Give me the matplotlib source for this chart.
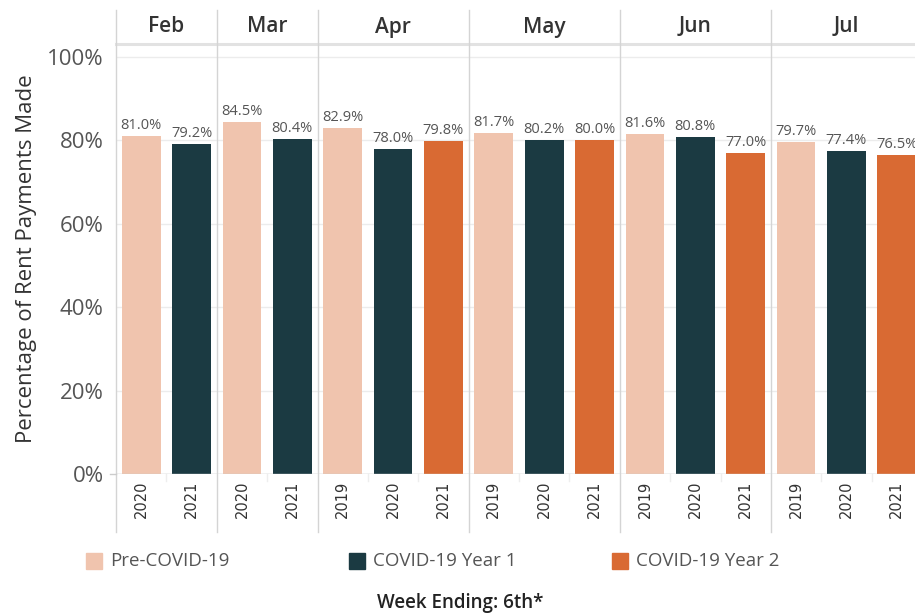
import matplotlib
matplotlib.use("Agg")
import matplotlib.pyplot as plt
import matplotlib.transforms as mtransforms
from matplotlib.patches import Rectangle

plt.rcParams['font.family'] = ['Open Sans', 'DejaVu Sans']

# ---- data ----
months = ['Feb', 'Mar', 'Apr', 'May', 'Jun', 'Jul']
month_years = [
    ['2020', '2021'],
    ['2020', '2021'],
    ['2019', '2020', '2021'],
    ['2019', '2020', '2021'],
    ['2019', '2020', '2021'],
    ['2019', '2020', '2021'],
]
month_values = [
    [81.0, 79.2],
    [84.5, 80.4],
    [82.9, 78.0, 79.8],
    [81.7, 80.2, 80.0],
    [81.6, 80.8, 77.0],
    [79.7, 77.4, 76.5],
]
month_groups = [
    ['Pre-COVID-19', 'COVID-19 Year 1'],
    ['Pre-COVID-19', 'COVID-19 Year 1'],
    ['Pre-COVID-19', 'COVID-19 Year 1', 'COVID-19 Year 2'],
    ['Pre-COVID-19', 'COVID-19 Year 1', 'COVID-19 Year 2'],
    ['Pre-COVID-19', 'COVID-19 Year 1', 'COVID-19 Year 2'],
    ['Pre-COVID-19', 'COVID-19 Year 1', 'COVID-19 Year 2'],
]
legend_labels = ['Pre-COVID-19', 'COVID-19 Year 1', 'COVID-19 Year 2']
colors = {'Pre-COVID-19': '#F0C4AE', 'COVID-19 Year 1': '#1B3A42', 'COVID-19 Year 2': '#D96A33'}
yticks = [0, 20, 40, 60, 80, 100]

W, H = 915, 614
fig = plt.figure(figsize=(W / 100, H / 100), dpi=100)

def fx(px):
    return px / W

def fy(py):
    return 1 - py / H

# main axes: x from 116 to 922 px, y from 44 (top) to 474 (baseline)
left_px, right_px, top_px, base_px = 116, 922, 44, 474
ax = fig.add_axes([fx(left_px), fy(base_px), fx(right_px - left_px), (base_px - top_px) / H])
px_per_pct = 417 / 100.0
ax.set_ylim(0, (base_px - top_px) / px_per_pct)
nslots = sum(len(v) for v in month_values)
ax.set_xlim(0, nslots)
for s in ax.spines.values():
    s.set_visible(False)
ax.set_xticks([])
ax.set_yticks(yticks)
ax.set_yticklabels([f'{t}%' for t in yticks], fontsize=16, color='#555555')
ax.tick_params(axis='y', length=0, pad=9)
for t in yticks:
    ax.axhline(t, color='#ececec', lw=1, zorder=0)
ax.axhline(0, color='#cccccc', lw=1, zorder=3)
ax.set_ylabel('Percentage of Rent Payments Made', fontsize=16, color='#333333', labelpad=7)

blend = mtransforms.blended_transform_factory(ax.transData, fig.transFigure)

pos = 0
boundaries = [0]
for m, yrs, vals, grps in zip(months, month_years, month_values, month_groups):
    start = pos
    for yr, v, g in zip(yrs, vals, grps):
        c = pos + 0.5
        ax.bar(c, v, width=0.77, color=colors[g], zorder=2, edgecolor='none')
        ax.text(c, v + 0.7, f'{v:.1f}%', ha='center', va='bottom', fontsize=10.5,
                color='#555555', zorder=4)
        fig.text(c, fy(499), yr, transform=blend, rotation=90,
                 ha='center', va='center', fontsize=10.5, color='#333333',
                 family='DejaVu Sans')
        pos += 1
    fig.text((start + pos) / 2, fy(27), m, transform=blend, ha='center',
             va='center', fontsize=15, fontweight='semibold', color='#333333')
    boundaries.append(pos)

# panel separators
for b in boundaries[:-1]:
    ax.plot([b, b], [fy(10), fy(532)], transform=blend, color='#d4d4d4', lw=1,
            clip_on=False, zorder=5)
# faint ticks between bars in the year row
for i in range(1, nslots):
    if i not in boundaries:
        ax.plot([i, i], [fy(474), fy(481)], transform=blend, color='#eeeeee', lw=1,
                clip_on=False)
# header bottom line
ax.plot([0, nslots], [fy(44), fy(44)], transform=blend, color='#e2e2e2', lw=2.2,
        clip_on=False)
# baseline extends a bit to the left
fig.add_artist(plt.Line2D([fx(110), fx(left_px)], [fy(474), fy(474)], color='#cccccc', lw=1))

# legend
leg_x = [86, 349, 612]
for lx, lab in zip(leg_x, legend_labels):
    fig.add_artist(Rectangle((fx(lx), fy(569)), fx(16), 16 / H, color=colors[lab],
                             transform=fig.transFigure))
    fig.text(fx(lx + 24), fy(561), lab, ha='left', va='center', fontsize=13.5,
             color='#555555')

fig.text(fx(460), fy(603), 'Week Ending: 6th*', ha='center', va='center', fontsize=13.5,
         fontweight='semibold', color='#222222')

fig.savefig('out.png', dpi=100)
